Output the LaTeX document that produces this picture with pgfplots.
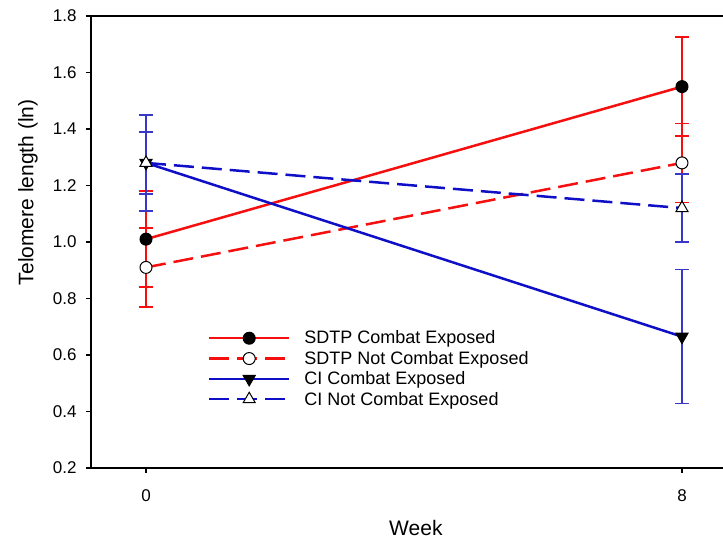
\documentclass[border=0pt]{standalone}
\usepackage{fontspec}
\setmainfont{Liberation Sans}
\usepackage{pgfplots}
\pgfplotsset{compat=1.18}
\definecolor{lred}{RGB}{245,15,15}
\definecolor{lblue}{RGB}{15,15,200}
\definecolor{eblue}{RGB}{55,55,200}

% downward filled triangle
\pgfdeclareplotmark{dtri*}{%
  \pgfpathmoveto{\pgfqpoint{0pt}{-\pgfplotmarksize}}%
  \pgfpathlineto{\pgfqpoint{0.866\pgfplotmarksize}{0.5\pgfplotmarksize}}%
  \pgfpathlineto{\pgfqpoint{-0.866\pgfplotmarksize}{0.5\pgfplotmarksize}}%
  \pgfpathclose
  \pgfusepathqfillstroke}

\begin{document}
\begin{tikzpicture}
\begin{axis}[
  scale only axis, width=632pt, height=452pt,
  xmin=-0.821, xmax=8.612, ymin=0.2, ymax=1.8,
  axis x line*=box, axis y line*=left,
  axis line style={line width=1.3pt},
  xtick={0,8}, ytick={0.2,0.4,0.6,0.8,1.0,1.2,1.4,1.6,1.8},
  xtick pos=bottom, ytick pos=left,
  tick align=outside, major tick length=5pt,
  tick style={line width=1.2pt, black},
  /pgf/number format/assume math mode=true,
  yticklabel style={/pgf/number format/.cd, fixed, fixed zerofill, precision=1, /tikz/.cd, xshift=-6pt},
  xticklabel style={yshift=-13pt},
  ticklabel style={font=\fontsize{17}{20}\selectfont},
  label style={font=\fontsize{21}{25}\selectfont},
  xlabel={Week}, ylabel={Telomere length (ln)},
  xlabel style={at={(axis description cs:0.514,0)}, anchor=center, yshift=-60pt},
  ylabel style={at={(axis description cs:-0.0997,0.61)}, anchor=center},
  legend style={at={(rel axis cs:0.18,0.3125)}, anchor=north west, draw=none, fill=none,
    font=\fontsize{18}{20}\selectfont, row sep=1.8pt,
    /tikz/every odd column/.append style={column sep=12pt}},
  legend cell align=left,
  legend image code/.code={\draw[mark repeat=2,mark phase=2,#1] plot coordinates {(0pt,0pt) (40pt,0pt) (80pt,0pt)};},
]
\addplot[lred, line width=2.5pt, mark=*, mark size=6pt,
  mark options={solid, fill=black, draw=black, line width=1pt},
  error bars/.cd, y dir=both, y explicit,
  error bar style={lred, line width=1.5pt},
  error mark options={lred, line width=1.5pt, mark size=7pt, rotate=90}]
  coordinates {(0,1.01) +- (0,0.17) (8,1.55) +- (0,0.175)};
\addplot[lred, line width=2.5pt, dash pattern=on 20pt off 8pt, mark=*, mark size=6pt,
  mark options={solid, fill=white, draw=black, line width=1pt},
  error bars/.cd, y dir=both, y explicit,
  error bar style={lred, line width=1.5pt, solid},
  error mark options={lred, line width=1.5pt, mark size=7pt, rotate=90, solid}]
  coordinates {(0,0.91) +- (0,0.14) (8,1.28) +- (0,0.14)};
\addplot[lblue, line width=2.5pt, solid, mark=dtri*, mark size=7pt,
  mark options={solid, fill=black, draw=black, line width=1pt},
  error bars/.cd, y dir=both, y explicit,
  error bar style={eblue, line width=1.5pt},
  error mark options={eblue, line width=1.5pt, mark size=7pt, rotate=90}]
  coordinates {(0,1.28) +- (0,0.17) (8,0.665) +- (0,0.237)};
\addplot[lblue, line width=2.5pt, dash pattern=on 20pt off 8pt, mark=triangle*, mark size=7pt,
  mark options={solid, fill=white, draw=black, line width=1pt},
  error bars/.cd, y dir=both, y explicit,
  error bar style={eblue, line width=1.5pt, solid},
  error mark options={eblue, line width=1.5pt, mark size=7pt, rotate=90, solid}]
  coordinates {(0,1.28) +- (0,0.11) (8,1.12) +- (0,0.12)};
\legend{SDTP Combat Exposed, SDTP Not Combat Exposed, CI Combat Exposed, CI Not Combat Exposed}
\end{axis}
\pgfresetboundingbox
\path (-91pt,-75pt) rectangle (632pt,468pt);
\end{tikzpicture}
\end{document}
